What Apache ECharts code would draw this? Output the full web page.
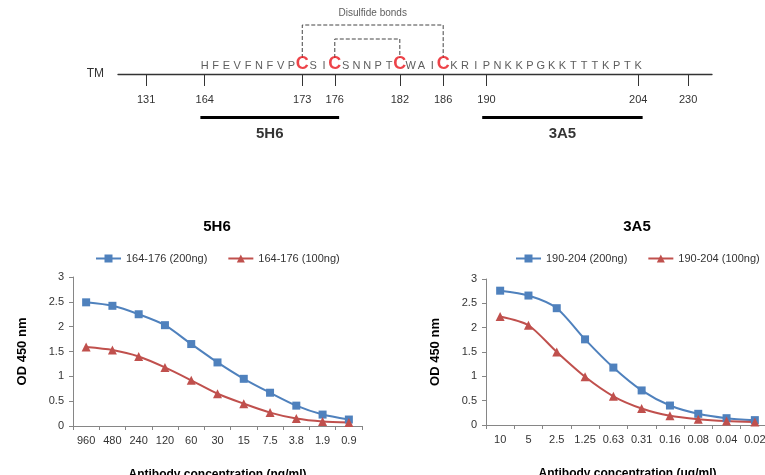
<!DOCTYPE html>
<html>
<head>
<meta charset="utf-8">
<script src="https://cdn.jsdelivr.net/npm/echarts@6/dist/echarts.min.js"></script>
<style>
html, body { margin: 0; padding: 0; background: #fff; }
#graph { width: 765px; height: 475px; }
</style>
</head>
<body>
<div id="graph"></div>
<script>
// peptide map (top)
const seqStart = 164
const sequence = ['H', 'F', 'E', 'V', 'F', 'N', 'F', 'V', 'P', 'C', 'S', 'I', 'C', 'S', 'N', 'N', 'P', 'T', 'C',
  'W', 'A', 'I', 'C', 'K', 'R', 'I', 'P', 'N', 'K', 'K', 'P', 'G', 'K', 'K', 'T', 'T', 'T', 'K', 'P', 'T', 'K']
const tickResidues = [131, 164, 173, 176, 182, 186, 190, 204, 230]
const disulfideBonds = [[173, 186], [176, 182]]
const epitopeNames = ['5H6', '3A5']
const epitopeRanges = [[164, 176], [190, 204]]

// ELISA curves (bottom)
const ngConc = ['960', '480', '240', '120', '60', '30', '15', '7.5', '3.8', '1.9', '0.9']
const od5H6High = [2.49, 2.42, 2.25, 2.03, 1.65, 1.28, 0.95, 0.67, 0.41, 0.23, 0.13]
const od5H6Low = [1.59, 1.53, 1.40, 1.18, 0.92, 0.65, 0.45, 0.27, 0.15, 0.09, 0.07]
const ugConc = ['10', '5', '2.5', '1.25', '0.63', '0.31', '0.16', '0.08', '0.04', '0.02']
const od3A5High = [2.76, 2.66, 2.40, 1.76, 1.18, 0.71, 0.40, 0.23, 0.14, 0.10]
const od3A5Low = [2.23, 2.05, 1.50, 0.99, 0.59, 0.34, 0.19, 0.12, 0.08, 0.06]
const seriesNames5H6 = ['164-176 (200ng)', '164-176 (100ng)']
const seriesNames3A5 = ['190-204 (200ng)', '190-204 (100ng)']

const seqEnd = seqStart + sequence.length - 1
const BLUE = '#4f81bd'
const RED = '#c0504d'
const TXT = '#333'

// the map is drawn to scale between 164 and 204, the far ends are squeezed
function slot (r) {
  if (r < seqStart) return seqStart - 5.4
  if (r > seqEnd) return seqEnd + 4.6
  return r
}
const MAP_MIN = 156
const MAP_MAX = 210.8

// vertical levels (0 = main line; above in grid 0, below in grid 3)
const LV_SEQ = 8
const LV_FOOT = 16
const LV_BOND = [49, 35]
const LV_BOND_TEXT = 61
const LV_BAR = -43
const LV_BAR_TEXT = -60

const letterData = []
const cysData = []
sequence.forEach((aa, i) => {
  const x = slot(seqStart + i)
  if (aa === 'C') cysData.push([x, LV_SEQ + 2, aa])
  else letterData.push([x, LV_SEQ, aa])
})

function textSeries (grid, data, label) {
  return {
    type: 'scatter',
    xAxisIndex: grid,
    yAxisIndex: grid,
    silent: true,
    symbolSize: 1,
    itemStyle: { color: 'rgba(0,0,0,0)' },
    label: Object.assign({ show: true, position: 'inside', formatter: p => p.value[2] }, label),
    data
  }
}

const catAxis = (grid, data, name) => ({
  gridIndex: grid,
  type: 'category',
  data,
  boundaryGap: true,
  name,
  nameLocation: 'middle',
  nameGap: 43,
  nameTextStyle: { fontSize: 12, fontWeight: 'bold', color: '#000' },
  axisLine: { lineStyle: { color: '#868686' } },
  axisTick: { show: true, length: 4, lineStyle: { color: '#868686' } },
  axisLabel: { fontSize: 11, color: TXT, margin: 9, interval: 0 },
  splitLine: { show: false }
})

const odAxis = grid => ({
  gridIndex: grid,
  type: 'value',
  min: 0,
  max: 3,
  interval: 0.5,
  name: 'OD 450 nm',
  nameLocation: 'middle',
  nameGap: 44,
  nameTextStyle: { fontSize: 13, fontWeight: 'bold', color: '#000' },
  axisLine: { show: true, lineStyle: { color: '#868686' } },
  axisTick: { show: true, length: 4, lineStyle: { color: '#868686' } },
  axisLabel: { fontSize: 11, color: TXT, margin: 9 },
  splitLine: { show: false }
})

const curve = (name, grid, data, color, symbol, size) => ({
  name,
  type: 'line',
  xAxisIndex: grid,
  yAxisIndex: grid,
  data,
  smooth: 0.25,
  symbol,
  symbolSize: size,
  color,
  lineStyle: { width: 2, color },
  itemStyle: { color }
})

const legendBase = {
  top: 253,
  itemWidth: 25,
  itemHeight: 10,
  itemGap: 20,
  padding: 0,
  textStyle: { fontSize: 11, color: TXT }
}

const titleText = { fontSize: 15, fontWeight: 'bold', color: '#000' }

const option = {
  animation: false,
  backgroundColor: '#fff',
  textStyle: { fontFamily: 'Liberation Sans, Arial, sans-serif' },
  title: [
    { text: '5H6', left: 217, top: 219, textAlign: 'center', padding: 0, textStyle: titleText },
    { text: '3A5', left: 637, top: 219, textAlign: 'center', padding: 0, textStyle: titleText }
  ],
  legend: [
    Object.assign({ left: 95, data: seriesNames5H6 }, legendBase),
    Object.assign({ left: 515, data: seriesNames3A5 }, legendBase)
  ],
  grid: [
    { left: 118, right: 53, top: 10, height: 64, outerBoundsMode: 'none' },
    { left: 73, top: 277, width: 289, height: 149, outerBoundsMode: 'none' },
    { left: 486, top: 279, width: 283, height: 146, outerBoundsMode: 'none' },
    { left: 118, right: 53, top: 74, height: 66, outerBoundsMode: 'none' }
  ],
  xAxis: [
    {
      gridIndex: 0,
      type: 'value',
      min: MAP_MIN,
      max: MAP_MAX,
      name: 'TM',
      nameLocation: 'start',
      nameGap: 14,
      nameTextStyle: { fontSize: 12, color: TXT },
      axisLine: { lineStyle: { color: TXT, width: 1.3 } },
      axisTick: { show: true, customValues: tickResidues.map(slot), length: 12, lineStyle: { color: TXT } },
      axisLabel: {
        customValues: tickResidues.map(slot),
        margin: 20,
        fontSize: 11,
        color: TXT,
        formatter: v => String(tickResidues.find(r => Math.abs(slot(r) - v) < 1e-6))
      },
      splitLine: { show: false }
    },
    catAxis(1, ngConc, 'Antibody concentration (ng/ml)'),
    catAxis(2, ugConc, 'Antibody concentration (ug/ml)'),
    { gridIndex: 3, type: 'value', min: MAP_MIN, max: MAP_MAX, show: false }
  ],
  yAxis: [
    { gridIndex: 0, type: 'value', min: 0, max: 64, show: false },
    odAxis(1),
    odAxis(2),
    { gridIndex: 3, type: 'value', min: -66, max: 0, show: false }
  ],
  series: [
    textSeries(0, letterData, { fontSize: 11, color: TXT }),
    textSeries(0, cysData, { fontSize: 18, fontWeight: 'bold', color: '#e8141c' }),
    textSeries(0, [[(slot(disulfideBonds[0][0]) + slot(disulfideBonds[0][1])) / 2, LV_BOND_TEXT, 'Disulfide bonds']],
      { fontSize: 10, color: TXT }),
    {
      type: 'lines',
      coordinateSystem: 'cartesian2d',
      xAxisIndex: 0,
      yAxisIndex: 0,
      polyline: true,
      silent: true,
      lineStyle: { color: '#444', width: 1, type: 'dashed', opacity: 1 },
      data: disulfideBonds.map((b, i) => ({
        coords: [[slot(b[0]), LV_FOOT], [slot(b[0]), LV_BOND[i]], [slot(b[1]), LV_BOND[i]], [slot(b[1]), LV_FOOT]]
      }))
    },
    {
      type: 'lines',
      coordinateSystem: 'cartesian2d',
      xAxisIndex: 3,
      yAxisIndex: 3,
      silent: true,
      lineStyle: { color: '#000', width: 3, opacity: 1 },
      data: epitopeRanges.map(e => ({ coords: [[slot(e[0]) - 0.4, LV_BAR], [slot(e[1]) + 0.4, LV_BAR]] }))
    },
    textSeries(3, epitopeRanges.map((e, i) => [(slot(e[0]) + slot(e[1])) / 2, LV_BAR_TEXT, epitopeNames[i]]),
      { fontSize: 15, fontWeight: 'bold', color: '#000' }),
    curve(seriesNames5H6[0], 1, od5H6High, BLUE, 'rect', 8),
    curve(seriesNames5H6[1], 1, od5H6Low, RED, 'triangle', 9),
    curve(seriesNames3A5[0], 2, od3A5High, BLUE, 'rect', 8),
    curve(seriesNames3A5[1], 2, od3A5Low, RED, 'triangle', 9)
  ]
}

const chart = echarts.init(document.getElementById('graph'))
chart.setOption(option)
</script>
</body>
</html>
